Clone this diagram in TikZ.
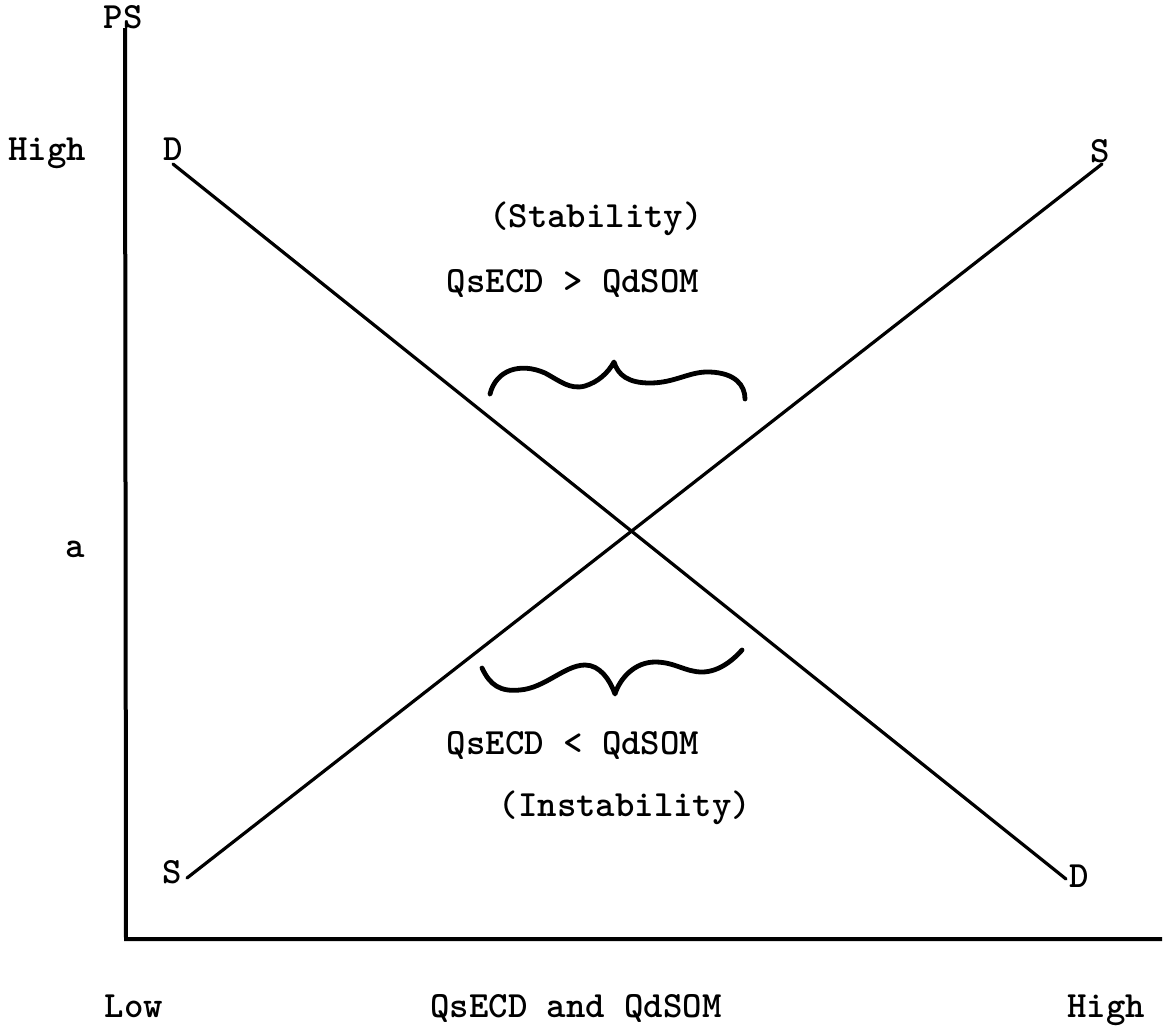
\documentclass[tikz,border=0pt]{standalone}
\usepackage{fontspec}
\begin{document}
\begin{tikzpicture}[x=1pt,y=-1pt,
  lbl/.style={anchor=base,inner sep=0pt,font=\ttfamily\bfseries\fontsize{37}{42}\selectfont},
  axis/.style={line width=4pt},
  curve/.style={line width=3.2pt,line cap=round},
  brace/.style={line width=4.8pt,line cap=round,line join=round}]
\useasboundingbox (0,0) rectangle (1164,1026);
% axes
\coordinate (top) at (125,28);
\coordinate (origin) at (126,939);
\coordinate (right) at (1162,939);
\draw[axis] (top) -- (origin) -- (right);
% curve endpoints
\coordinate (D1) at (173,164);
\coordinate (D2) at (1066,879);
\coordinate (S1) at (187,878);
\coordinate (S2) at (1102,164);
\draw[curve] (D1) -- (D2);
\draw[curve] (S1) -- (S2);
% labels
\node[lbl] (ps) at (123,28) {PS};
\node[lbl] (highy) at (47,160) {High};
\node[lbl] (a) at (75,557) {a};
\node[lbl] (dtl) at (173,160) {D};
\node[lbl] (str) at (1100,162) {S};
\node[lbl] (sbl) at (172,883) {S};
\node[lbl] (dbr) at (1079,887) {D};
\node[lbl] (stab) at (596,227) {(Stability)};
\node[lbl] (gt) at (573,292) {QsECD > QdSOM};
\node[lbl] (lt) at (573,754) {QsECD < QdSOM};
\node[lbl] (inst) at (625,816) {(Instability)};
\node[lbl] (low) at (134,1017) {Low};
\node[lbl] (xlab) at (576,1017) {QsECD and QdSOM};
\node[lbl] (highx) at (1106,1017) {High};
% braces
\draw[brace] (490,394) .. controls (496,370) and (520,362) .. (545,373)
  .. controls (560,381) and (570,390) .. (585,386)
  .. controls (598,382) and (608,373) .. (614,362)
  .. controls (618,375) and (628,383) .. (650,383)
  .. controls (675,383) and (690,371) .. (710,372)
  .. controls (735,373) and (745,385) .. (745,399);
\draw[brace] (482,668) .. controls (490,685) and (500,692) .. (520,690)
  .. controls (545,688) and (565,665) .. (585,665)
  .. controls (600,665) and (610,680) .. (615,694)
  .. controls (620,678) and (635,662) .. (655,662)
  .. controls (675,662) and (685,672) .. (702,672)
  .. controls (720,672) and (735,658) .. (742,650);
\end{tikzpicture}
\end{document}
